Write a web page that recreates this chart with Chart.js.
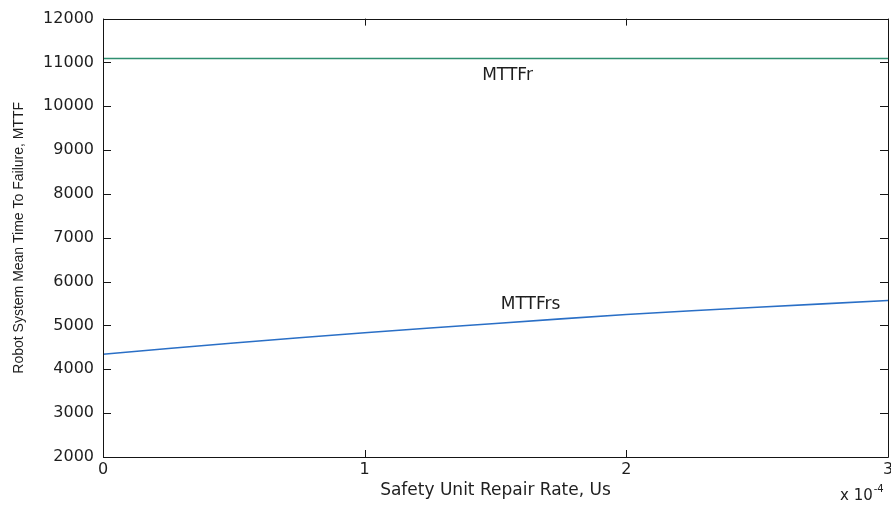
<!DOCTYPE html>
<html>
<head>
<meta charset="utf-8">
<script src="https://cdn.jsdelivr.net/npm/chart.js@4.4.1/dist/chart.umd.min.js"></script>
<style>
  html, body { margin: 0; padding: 0; background: #fff; overflow: hidden; }
  #wrap { width: 910px; height: 505px; }
</style>
</head>
<body>
<div id="wrap"><canvas id="c" width="910" height="505"></canvas></div>
<script>
// Safety unit repair rate, in units of 10^-4
const repairRate = [0, 0.5, 1, 1.5, 2, 2.5, 3];
// Robot system MTTF without the safety unit
const mttfRobot = [11090, 11090, 11090, 11090, 11090, 11090, 11090];
// Robot system MTTF with the safety unit
const mttfRobotSafety = [4345, 4600, 4835, 5045, 5250, 5415, 5570];

const yTickValues = [2000, 3000, 4000, 5000, 6000, 7000, 8000, 9000, 10000, 11000, 12000];
const xTickValues = [0, 1, 2, 3];

const seriesNames = ['MTTFr', 'MTTFrs'];

// curve labels, placed in data coordinates
const curveLabels = [
  { text: 'MTTFr', x: 1.546, y: 10700 },
  { text: 'MTTFrs', x: 1.634, y: 5470 }
];

const toPoints = (xs, ys) => xs.map((x, i) => ({ x: x, y: ys[i] }));

const TEXT = '#1e1e1e';
const tickFont = { family: '"DejaVu Sans", sans-serif', size: 16 };

// box frame with inward tick marks on all four sides, plus curve labels and exponent
const framePlugin = {
  id: 'frame',
  afterDatasetsDraw(chart) {
    const { ctx, chartArea: a, scales } = chart;
    const xs = scales.x, ys = scales.y;
    ctx.save();
    ctx.strokeStyle = '#151515';
    ctx.lineWidth = 1;
    ctx.beginPath();
    ctx.rect(Math.round(a.left) + 0.5, Math.round(a.top) + 0.5,
             Math.round(a.right - a.left), Math.round(a.bottom - a.top));
    ctx.stroke();

    ctx.beginPath();
    yTickValues.forEach(v => {
      const py = Math.round(ys.getPixelForValue(v)) + 0.5;
      ctx.moveTo(a.left, py); ctx.lineTo(a.left + 8, py);
      ctx.moveTo(a.right, py); ctx.lineTo(a.right - 8, py);
    });
    xTickValues.forEach(v => {
      const px = Math.round(xs.getPixelForValue(v)) + 0.5;
      ctx.moveTo(px, a.bottom); ctx.lineTo(px, a.bottom - 7);
      ctx.moveTo(px, a.top); ctx.lineTo(px, a.top + 7);
    });
    ctx.stroke();

    ctx.fillStyle = TEXT;
    ctx.textAlign = 'center';
    ctx.textBaseline = 'middle';
    ctx.font = '17px "DejaVu Sans", sans-serif';
    curveLabels.forEach(l => {
      ctx.fillText(l.text, xs.getPixelForValue(l.x), ys.getPixelForValue(l.y));
    });

    // axis multiplier
    ctx.textAlign = 'left';
    ctx.textBaseline = 'alphabetic';
    ctx.font = '15px "DejaVu Sans", sans-serif';
    const base = 'x 10';
    const bx = a.right - 48;
    const by = a.bottom + 43;
    ctx.fillText(base, bx, by);
    const w = ctx.measureText(base).width;
    ctx.font = '10px "DejaVu Sans", sans-serif';
    ctx.fillText('-4', bx + w + 1, by - 8);
    ctx.restore();
  }
};

new Chart(document.getElementById('c'), {
  type: 'line',
  data: {
    datasets: [
      {
        label: seriesNames[0],
        data: toPoints(repairRate, mttfRobot),
        borderColor: '#2f8f70',
        borderWidth: 1.6,
        pointRadius: 0,
        tension: 0.3
      },
      {
        label: seriesNames[1],
        data: toPoints(repairRate, mttfRobotSafety),
        borderColor: '#2a6fc6',
        borderWidth: 1.6,
        pointRadius: 0,
        tension: 0.3
      }
    ]
  },
  options: {
    responsive: false,
    animation: false,
    layout: { padding: { top: 15, right: 22, left: 0, bottom: 0 } },
    plugins: { legend: { display: false }, tooltip: { enabled: false } },
    scales: {
      x: {
        type: 'linear',
        min: 0, max: 3,
        afterBuildTicks: s => { s.ticks = xTickValues.map(v => ({ value: v })); },
        afterFit: s => { s.height = 48; },
        grid: { display: false, drawTicks: false },
        border: { display: false },
        ticks: { color: TEXT, font: tickFont, padding: 3, maxRotation: 0, autoSkip: false,
                 callback: v => String(v) },
        title: { display: true, text: 'Safety Unit Repair Rate, Us', color: TEXT,
                 font: { family: '"DejaVu Sans", sans-serif', size: 17 },
                 padding: { top: 0, bottom: 4 } }
      },
      y: {
        type: 'linear',
        min: 2000, max: 12000,
        afterBuildTicks: s => { s.ticks = yTickValues.map(v => ({ value: v })); },
        afterFit: s => { s.width = 103; },
        grid: { display: false, drawTicks: false },
        border: { display: false },
        ticks: { color: TEXT, font: tickFont, padding: 9, autoSkip: false,
                 callback: v => String(v) },
        title: { display: true, text: 'Robot System Mean Time To Failure, MTTF', color: TEXT,
                 font: { family: '"Liberation Sans Narrow", "Arial Narrow", sans-serif', size: 14 },
                 padding: { top: 11, bottom: 0 } }
      }
    }
  },
  plugins: [framePlugin]
});
</script>
</body>
</html>
